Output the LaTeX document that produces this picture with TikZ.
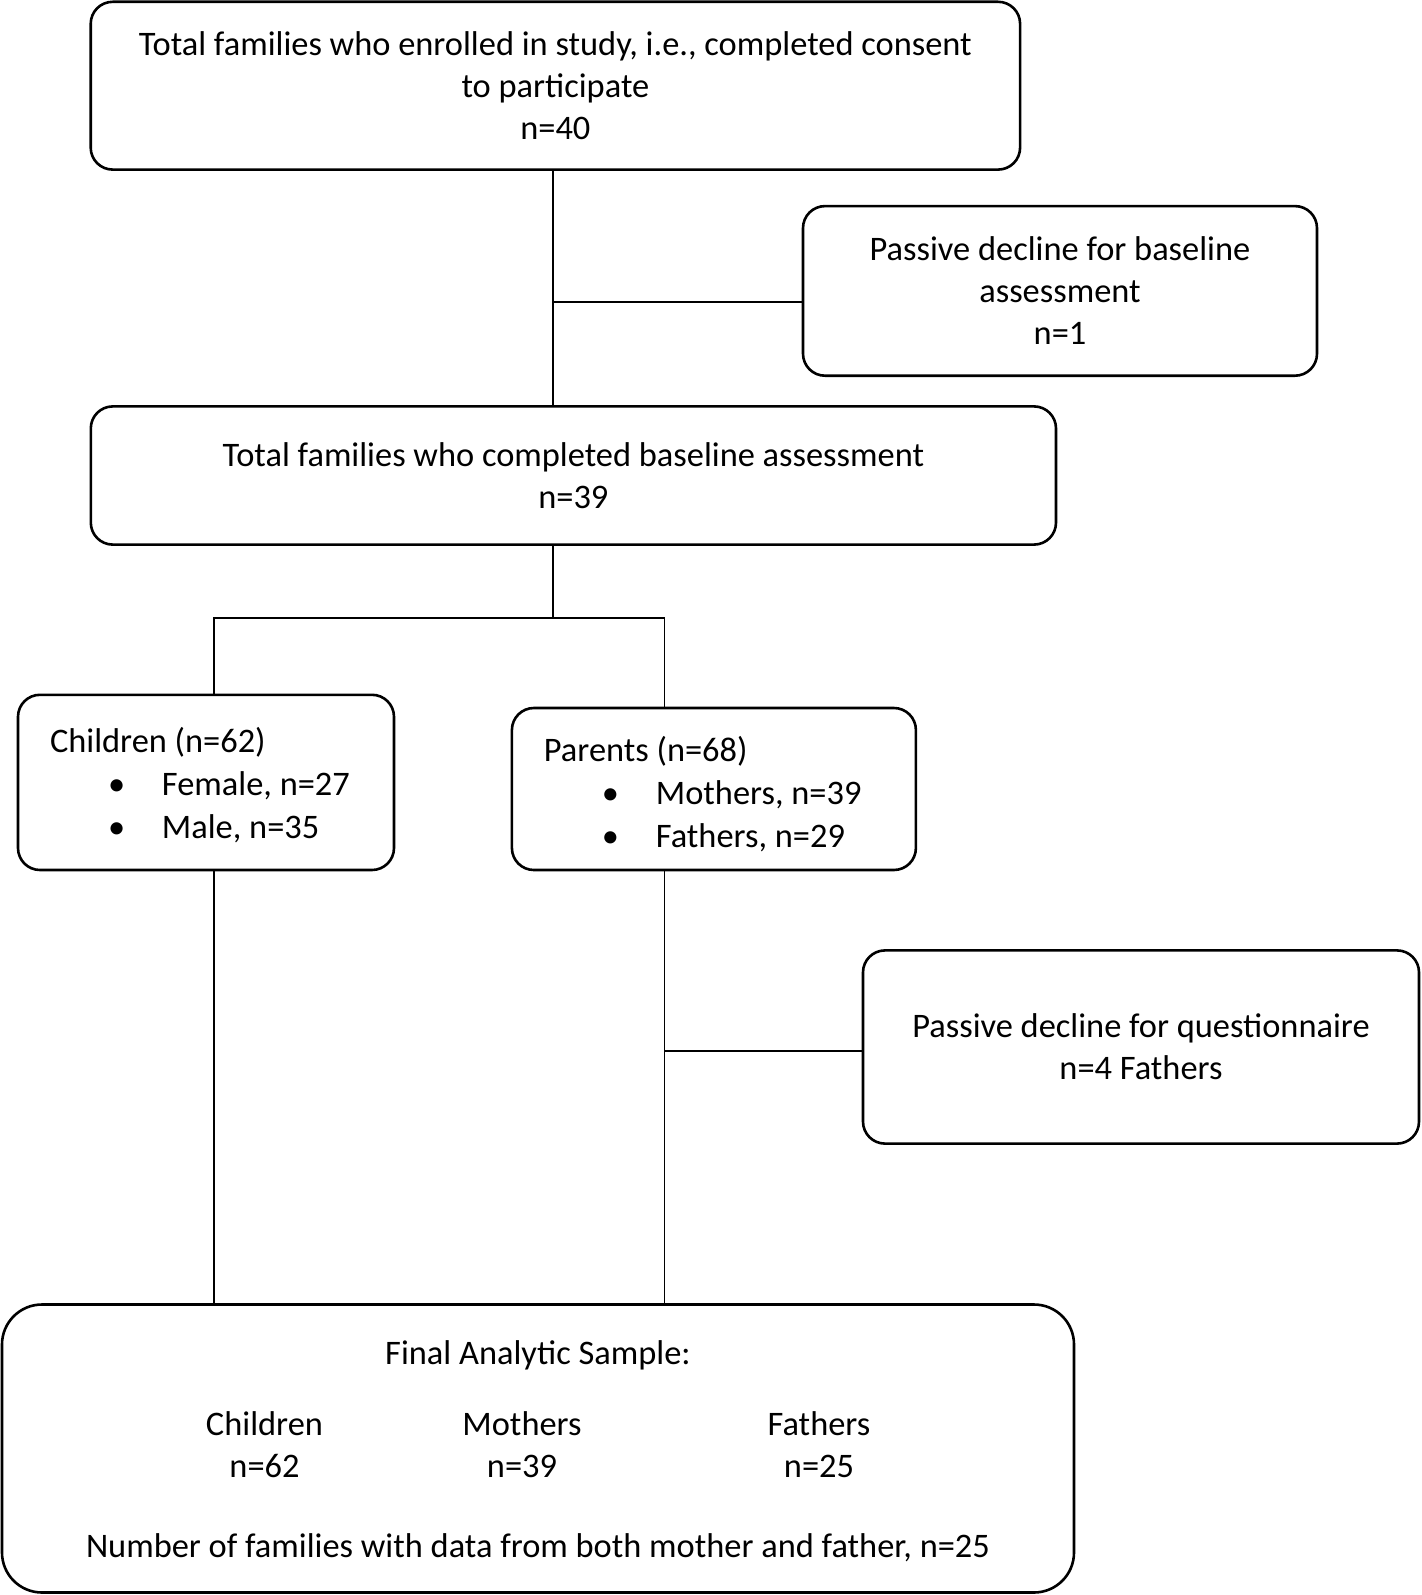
\documentclass[tikz,border=0pt]{standalone}
\usepackage{fontspec}
\setmainfont{Carlito}
\tikzset{
  box/.style={draw, line width=1.3pt, rounded corners=11pt, align=center, inner sep=0pt},
  listbox/.style={box, align=flush left, inner xsep=16pt, text width=#1,
    font=\fontsize{17.2}{21.6}\selectfont},
  link/.style={line width=0.6pt},
  txt/.style={align=center, inner sep=0pt}
}
\newcommand{\bul}[1]{\makebox[56pt][l]{\hspace*{29pt}\textbullet}#1}
\newcommand{\low}[1]{\raisebox{-#1}[\height][\depth]}

\begin{document}
\begin{tikzpicture}[x=0.5pt, y=-0.5pt, font=\fontsize{17.2}{21}\selectfont]
	\useasboundingbox (0,0) rectangle (1421,1595);

	\node[box, minimum width=464.7pt, minimum height=83.9pt] (enrol) at (555.4,85.7)
		{Total families who enrolled in study, i.e., completed consent\\to participate\\n=40};
	\node[box, minimum width=257pt, minimum height=84.8pt] (decline1) at (1060,290.9)
		{Passive decline for baseline\\assessment\\n=1};
	\node[box, minimum width=482.6pt, minimum height=69.1pt] (base) at (573.4,475.5)
		{Total families who completed baseline assessment\\n=39};
	\node[listbox=156pt, minimum width=188pt, minimum height=87.6pt] (children) at (206,782.4)
		{\low{1.5pt}{Children (n=62)}\\
		 \low{1.5pt}{\bul{Female, n=27}}\\
		 \low{1.5pt}{\bul{Male, n=35}}};
	\node[listbox=170pt, minimum width=201.8pt, minimum height=81pt] (parents) at (713.9,789)
		{\low{2.5pt}{Parents (n=68)}\\
		 \low{2.5pt}{\bul{Mothers, n=39}}\\
		 \low{2.5pt}{\bul{Fathers, n=29}}};
	\node[box, minimum width=278pt, minimum height=96.6pt] (decline2) at (1141,1047)
		{Passive decline for questionnaire\\n=4 Fathers};
	\node[box, rounded corners=20pt, minimum width=536pt, minimum height=144pt] (final) at (538,1448.5) {};

	\node[txt] (ftitle) at (538,1355) {Final Analytic Sample:};
	\node[txt] (fchild) at (264.5,1444.5) {Children\\n=62};
	\node[txt] (fmoth) at (522,1444.5) {Mothers\\n=39};
	\node[txt] (ffath) at (819,1444.5) {Fathers\\n=25};
	\node[txt] (fboth) at (538,1548) {Number of families with data from both mother and father, n=25};

	\coordinate (split) at (553,618);
	\coordinate (b1) at (553,302);
	\coordinate (lft) at (214,618);
	\coordinate (rgt) at (664.5,618);
	\coordinate (b2) at (664.5,1051);

	\draw[link] (enrol.south -| split) -- (base.north -| split);
	\draw[link] (b1) -- (b1 -| decline1.west);
	\draw[link] (base.south -| split) -- (split);
	\draw[link] (children.north -| lft) -- (lft) -- (rgt) -- (parents.north -| rgt);
	\draw[link] (children.south -| lft) -- (final.north -| lft);
	\draw[link] (parents.south -| rgt) -- (final.north -| rgt);
	\draw[link] (b2) -- (b2 -| decline2.west);
\end{tikzpicture}
\end{document}
